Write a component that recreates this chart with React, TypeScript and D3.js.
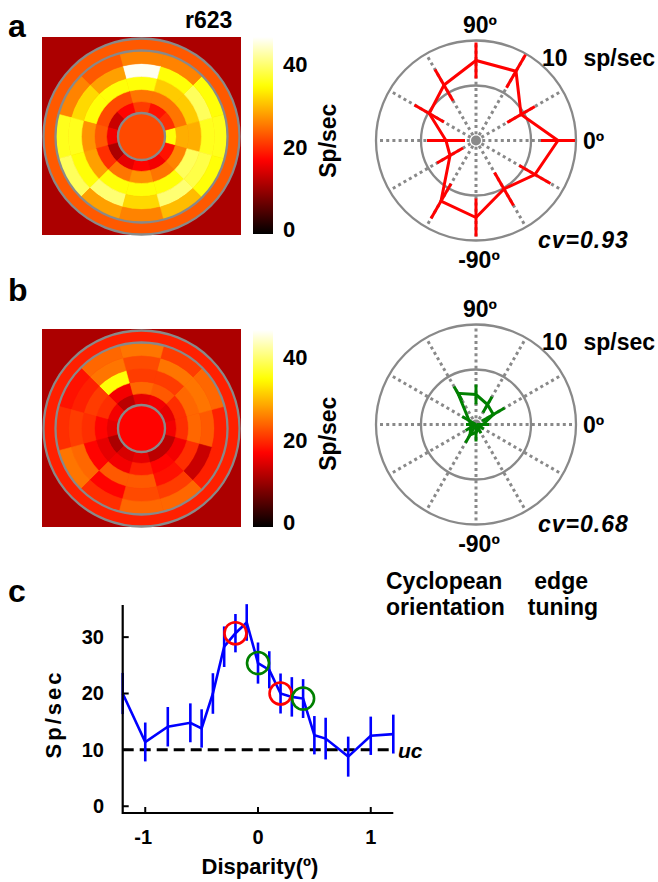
import React from "react";
import * as d3 from "d3";

// ---- receptive-field maps (Sp/sec), 12 sectors x 5 rings, inner ring first ----
const sectorAngles = [0, 30, 60, 90, 120, 150, 180, 210, 240, 270, 300, 330];
const mapA = [
  [35, 29, 29, 36, 36],
  [20, 25, 31, 39, 35],
  [18, 25, 31, 35, 26],
  [21, 25, 35, 46, 26],
  [17, 22, 35, 28, 23],
  [13, 22, 35, 32, 26],
  [16, 23, 27, 36, 36],
  [11, 20, 28, 35, 39],
  [15, 25, 35, 40, 28],
  [17, 27, 35, 32, 26],
  [16, 25, 35, 40, 30],
  [18, 26, 39, 38, 35],
];
const mapB = [
  [16, 20, 24, 23, 19],
  [15, 20, 24, 25, 24],
  [16, 23, 21, 25, 21],
  [15, 24, 21, 22, 25],
  [12, 16, 35, 25, 24],
  [16, 20, 21, 19, 18],
  [15, 17, 20, 21, 20],
  [11, 15, 17, 24, 25],
  [14, 16, 23, 17, 20],
  [15, 19, 23, 22, 24],
  [12, 17, 18, 21, 24],
  [12, 16, 20, 13, 19],
];
// centre disk, surround annulus, background
const mapAExtra = [22, 23, 11];
const mapBExtra = [17, 19, 11];
const colorbarTicks = [0, 20, 40];

// ---- orientation tuning (sp/sec) ----
const orientations = [0, 30, 60, 90, 120, 150, 180, 210, 240, 270, 300, 330];
const tuningA = [8.2, 5.2, 8.0, 8.0, 6.4, 5.4, 3.0, 3.0, 7.0, 7.7, 5.6, 6.8];
const tuningAErr = [1.7, 1.6, 1.9, 1.8, 1.8, 1.7, 1.9, 1.5, 2.0, 1.9, 1.9, 1.8];
const tuningB = [0.7, 2.0, 2.3, 3.0, 3.6, 0.8, 0.5, 0.6, 1.2, 0.8, 0.5, 0.4];
const tuningBErr = [0.6, 1.3, 0.9, 1.0, 0.8, 0.8, 0.5, 0.6, 0.9, 0.9, 0.5, 0.5];
const polarRings = [5.5, 10];

// ---- disparity tuning ----
const disparity = [-1.2, -1, -0.8, -0.6, -0.5, -0.4, -0.3, -0.2, -0.1, 0, 0.1, 0.2, 0.3, 0.4, 0.5, 0.6, 0.8, 1, 1.2];
const rate = [20.0, 11.4, 14.1, 14.8, 13.8, 20.0, 28.3, 30.7, 32.6, 25.4, 24.2, 20.0, 19.4, 19.1, 12.6, 12.0, 8.8, 12.5, 12.8];
const rateSem = [3.65, 3.45, 3.5, 3.45, 3.4, 3.6, 3.6, 3.4, 3.25, 3.65, 3.3, 3.55, 3.5, 3.45, 3.4, 3.7, 3.55, 3.4, 3.45];
const ucLevel = 10;
const redMarks = [-0.2, 0.2];
const greenMarks = [0, 0.4];
const yTicks = [0, 10, 20, 30];
const xTicks = [-1, 0, 1];

const FONT = "'Liberation Sans', Arial, sans-serif";
const GRAY = "#898989";

const clamp01 = (v: number) => Math.max(0, Math.min(1, v));
function hot(t: number) {
  const r = clamp01(t / 0.375);
  const g = clamp01((t - 0.375) / 0.375);
  const b = clamp01((t - 0.75) / 0.25);
  return d3.rgb(r * 255, g * 255, b * 255).formatHex();
}
const cNorm = d3.scaleLinear().domain([-1.1, 46.6]).range([0, 1]).clamp(true);
const heat = (v: number) => hot(cNorm(v));

const ringEdges = [23.5, 35, 47, 60, 73, 86];

function HeatMap({ x, y, values, extra }: { x: number; y: number; values: number[][]; extra: number[] }) {
  const size = 199;
  const cx = x + size / 2;
  const cy = y + size / 2;
  const arc = d3.arc<any>();
  const toD3 = (deg: number) => Math.PI / 2 - (deg * Math.PI) / 180;
  const cells: any[] = [];
  sectorAngles.forEach((a, i) => {
    values[i].forEach((v, k) => {
      const d = arc({
        innerRadius: ringEdges[k],
        outerRadius: ringEdges[k + 1],
        startAngle: toD3(a + 15),
        endAngle: toD3(a - 15),
      });
      cells.push(<path key={`${i}-${k}`} d={d || ""} fill={heat(v)} stroke={heat(v)} strokeWidth={0.6} />);
    });
  });
  return (
    <g>
      <rect x={x} y={y} width={size} height={size - 1} fill={heat(extra[2])} />
      <circle cx={cx} cy={cy} r={98} fill={heat(extra[1])} />
      <g transform={`translate(${cx},${cy})`}>{cells}</g>
      <circle cx={cx} cy={cy} r={ringEdges[0]} fill={heat(extra[0])} />
      {[ringEdges[0], 86, 98].map((r) => (
        <circle key={r} cx={cx} cy={cy} r={r} fill="none" stroke={GRAY} strokeWidth={2.3} />
      ))}
    </g>
  );
}

function ColorBar({ x, y, id }: { x: number; y: number; id: string }) {
  const h = 197;
  const s = d3.scaleLinear().domain([-1.1, 46.6]).range([y + h, y]);
  const stops = d3.range(0, 1.0001, 0.02);
  return (
    <g>
      <defs>
        <linearGradient id={id} x1="0" y1="1" x2="0" y2="0">
          {stops.map((t) => (
            <stop key={t} offset={t} stopColor={hot(t)} />
          ))}
        </linearGradient>
      </defs>
      <rect x={x} y={y} width={20} height={h} fill={`url(#${id})`} />
      {colorbarTicks.map((t) => (
        <text key={t} x={x + 30} y={s(t) + 8} fontSize={22} fontWeight="bold" fontFamily={FONT}>
          {t}
        </text>
      ))}
      <text
        transform={`translate(${x + 83},${s(21.5)}) rotate(-90)`}
        textAnchor="middle"
        fontSize={23}
        fontWeight="bold"
        fontFamily={FONT}
      >
        Sp/sec
      </text>
    </g>
  );
}

function Polar({
  cx, cy, values, errs, color, cv,
}: { cx: number; cy: number; values: number[]; errs: number[]; color: string; cv: string }) {
  const R = 100;
  const r = d3.scaleLinear().domain([0, 10]).range([0, R]);
  const pt = (deg: number, v: number): [number, number] => {
    const a = (deg * Math.PI) / 180;
    return [cx + r(v) * Math.cos(a), cy - r(v) * Math.sin(a)];
  };
  const line = d3.line().curve(d3.curveLinearClosed);
  const poly = line(orientations.map((a, i) => pt(a, values[i]))) || "";
  const txt = { fontFamily: FONT, fontWeight: "bold" as const, fontSize: 23 };
  return (
    <g>
      {orientations.map((a) => {
        const [x2, y2] = pt(a, 10);
        return (
          <line key={a} x1={cx} y1={cy} x2={x2} y2={y2} stroke={GRAY} strokeWidth={3} strokeDasharray="3 3.2" />
        );
      })}
      <circle cx={cx} cy={cy} r={5} fill={GRAY} />
      {polarRings.map((v) => (
        <circle key={v} cx={cx} cy={cy} r={r(v)} fill="none" stroke={GRAY} strokeWidth={2.3} />
      ))}
      <path d={poly} fill="none" stroke={color} strokeWidth={3} strokeLinejoin="miter" />
      {orientations.map((a, i) => {
        const [x1, y1] = pt(a, Math.max(0, values[i] - errs[i]));
        const [x2, y2] = pt(a, values[i] + errs[i]);
        return <line key={a} x1={x1} y1={y1} x2={x2} y2={y2} stroke={color} strokeWidth={3} />;
      })}
      <text x={cx + 4} y={cy - 107.5} textAnchor="middle" {...txt}>90º</text>
      <text x={cx + 66} y={cy - 75} {...txt}>10</text>
      <text x={cx + 107.5} y={cy - 75} {...txt}>sp/sec</text>
      <text x={cx + 107} y={cy + 8} {...txt}>0º</text>
      <text x={cx + 3} y={cy + 127.5} textAnchor="middle" {...txt}>-90º</text>
      <text x={cx + 62} y={cy + 107.5} {...txt} fontStyle="italic" letterSpacing={1}>
        {cv}
      </text>
    </g>
  );
}

function DisparityPlot() {
  const x = d3.scaleLinear().domain([-1.2, 1.2]).range([122.7, 393.3]);
  const y = d3.scaleLinear().domain([-1.2, 35.7]).range([813, 605]);
  const pts = disparity.map((d, i) => [x(d), y(rate[i])] as [number, number]);
  const path = d3.line()(pts) || "";
  const valAt = (d: number) => rate[disparity.indexOf(d)];
  const txt = { fontFamily: FONT, fontWeight: "bold" as const };
  return (
    <g>
      <line x1={x(-1.2)} x2={x(1.2)} y1={y(ucLevel)} y2={y(ucLevel)} stroke="#000" strokeWidth={3} strokeDasharray="11 6" />
      <text x={398} y={y(ucLevel) + 8} fontSize={21} fontStyle="italic" {...txt}>uc</text>
      {disparity.map((d, i) => (
        <line
          key={d}
          x1={x(d)} x2={x(d)}
          y1={y(rate[i] - rateSem[i])} y2={y(rate[i] + rateSem[i])}
          stroke="#0000ff" strokeWidth={2.6}
        />
      ))}
      <path d={path} fill="none" stroke="#0000ff" strokeWidth={2.6} />
      {redMarks.map((d) => (
        <circle key={`r${d}`} cx={x(d)} cy={y(valAt(d))} r={11} fill="none" stroke="#ff0000" strokeWidth={2.6} />
      ))}
      {greenMarks.map((d) => (
        <circle key={`g${d}`} cx={x(d)} cy={y(valAt(d))} r={11} fill="none" stroke="#008000" strokeWidth={2.6} />
      ))}
      {/* axes */}
      <path d={`M${x(-1.2)},${y.range()[1]} V${y.range()[0]} H${x(1.2)}`} fill="none" stroke="#000" strokeWidth={2.2} />
      {yTicks.map((t) => (
        <g key={t}>
          <line x1={x(-1.2)} x2={x(-1.2) + 6} y1={y(t)} y2={y(t)} stroke="#000" strokeWidth={2} />
          <text x={104} y={y(t) + 7} textAnchor="end" fontSize={20} {...txt}>{t}</text>
        </g>
      ))}
      {xTicks.map((t) => (
        <g key={t}>
          <line x1={x(t)} x2={x(t)} y1={y.range()[0]} y2={y.range()[0] - 6} stroke="#000" strokeWidth={2} />
          <text x={x(t) - (t < 0 ? 2 : 0)} y={844} textAnchor="middle" fontSize={20} {...txt}>{t}</text>
        </g>
      ))}
      <text
        transform="translate(61,714) rotate(-90)"
        textAnchor="middle"
        fontSize={22}
        letterSpacing={3}
        {...txt}
      >
        Sp/sec
      </text>
      <text x={260} y={874} textAnchor="middle" fontSize={22} {...txt}>Disparity(º)</text>
    </g>
  );
}

export default function App() {
  const txt = { fontFamily: FONT, fontWeight: "bold" as const };
  return (
    <svg
      width={658}
      height={882}
      style={{ position: "absolute", left: 0, top: 0, background: "#fff" }}
    >
      <rect width={658} height={882} fill="#fff" />
      <text x={8} y={37} fontSize={32} {...txt}>a</text>
      <text x={8} y={301} fontSize={32} {...txt}>b</text>
      <text x={8} y={602} fontSize={32} {...txt}>c</text>
      <text x={185} y={27.5} fontSize={23} {...txt}>r623</text>

      <HeatMap x={42} y={37} values={mapA} extra={mapAExtra} />
      <ColorBar x={253} y={37} id="cbA" />
      <HeatMap x={42} y={329} values={mapB} extra={mapBExtra} />
      <ColorBar x={253} y={330} id="cbB" />

      <Polar cx={476} cy={140.5} values={tuningA} errs={tuningAErr} color="#ff0000" cv="cv=0.93" />
      <Polar cx={476} cy={424.5} values={tuningB} errs={tuningBErr} color="#008000" cv="cv=0.68" />

      <text x={386} y={589} fontSize={23} {...txt}>Cyclopean</text>
      <text x={588} y={589} fontSize={23} textAnchor="end" {...txt}>edge</text>
      <text x={386} y={615} fontSize={23} {...txt}>orientation</text>
      <text x={598} y={615} fontSize={23} textAnchor="end" {...txt}>tuning</text>

      <DisparityPlot />
    </svg>
  );
}
